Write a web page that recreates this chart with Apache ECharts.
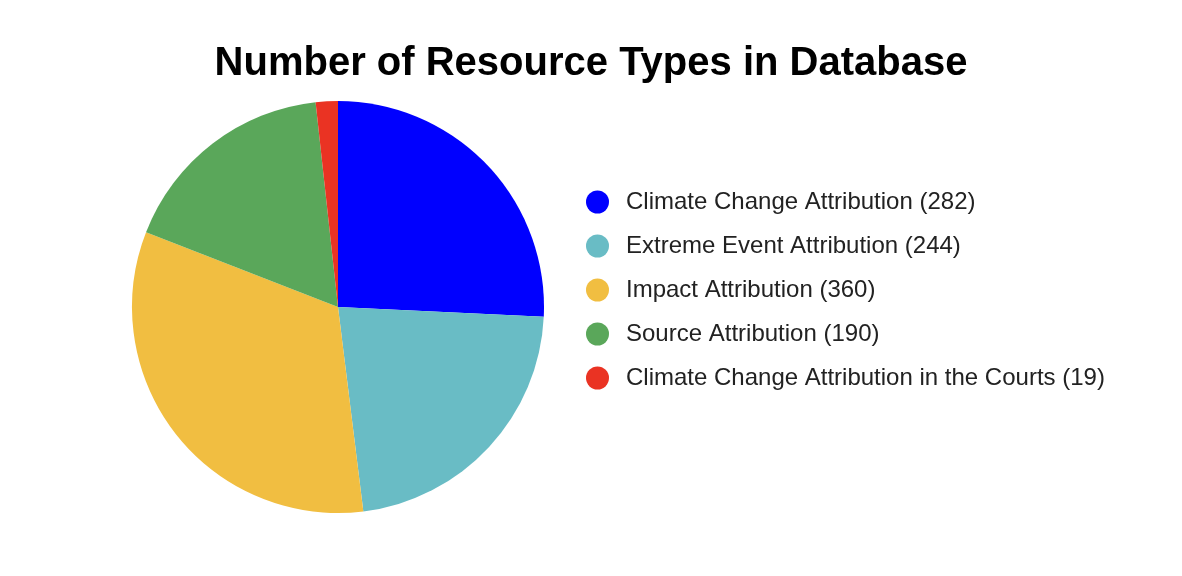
<!DOCTYPE html>
<html>
<head>
<meta charset="utf-8">
<script src="https://cdn.jsdelivr.net/npm/echarts@6/dist/echarts.min.js"></script>
<style>
  html, body { margin: 0; padding: 0; background: #fff; }
  #chart { width: 1182px; height: 576px; }
</style>
</head>
<body>
<div id="chart"></div>
<script>
// 资源类型
const categories = [
  'Climate Change Attribution',
  'Extreme Event Attribution',
  'Impact Attribution',
  'Source Attribution',
  'Climate Change Attribution in the Courts'
]
// 数量
const counts = [282, 244, 360, 190, 19]
const colors = ['#0000FF', '#69BCC5', '#F1BE41', '#5AA75A', '#EA3323']

const chart = echarts.init(document.getElementById('chart'))

const pieData = categories.map((name, i) => ({ name: name, value: counts[i] }))

const FONT = '"Liberation Sans", Arial, sans-serif'

const option = {
  backgroundColor: '#ffffff',
  color: colors,
  title: {
    text: 'Number of Resource Types in Database',
    left: 'center',
    top: 39,
    textStyle: {
      fontFamily: FONT,
      fontSize: 40,
      fontWeight: 'bold',
      color: '#000'
    }
  },
  legend: {
    orient: 'vertical',
    left: 581,
    top: 185,
    icon: 'circle',
    itemWidth: 23,
    itemHeight: 23,
    itemGap: 20,
    formatter: name => name + ' (' + counts[categories.indexOf(name)] + ')',
    textStyle: {
      fontFamily: FONT,
      fontSize: 24,
      color: '#222',
      padding: [0, 0, 0, 12]
    }
  },
  series: [{
    type: 'pie',
    center: [338, 307],
    radius: 206,
    startAngle: 90,
    clockwise: true,
    label: { show: false },
    labelLine: { show: false },
    itemStyle: { borderWidth: 0 },
    emphasis: { disabled: true },
    animation: false,
    data: pieData
  }]
}
chart.setOption(option)
</script>
</body>
</html>
